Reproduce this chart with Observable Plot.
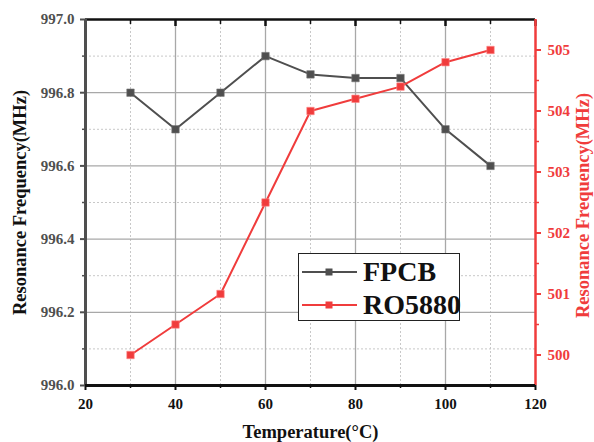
<!DOCTYPE html>
<html>
<head>
<meta charset="utf-8">
<script src="https://cdn.jsdelivr.net/npm/d3@7"></script>
<script src="https://cdn.jsdelivr.net/npm/@observablehq/plot@0.6"></script>
<style>
  html, body { margin: 0; padding: 0; background: #fff; }
  #wrap { position: relative; width: 594px; height: 442px; font-family: "Liberation Serif", "Times New Roman", serif; font-weight: bold; }
  #wrap svg text { font-family: "Liberation Serif", "Times New Roman", serif !important; font-weight: bold; }
  #legend { position: absolute; left: 298px; top: 253px; width: 162px; height: 68px; border: 1.5px solid #222; background: #fff; box-sizing: border-box; }
  .row { position: absolute; left: 0; height: 32px; display: flex; align-items: center; }
  .row span { font-size: 28px; line-height: 28px; color: #111; margin-left: 6px; }
</style>
</head>
<body>
<div id="wrap"></div>
<script>
const temps = [30, 40, 50, 60, 70, 80, 90, 100, 110];
const fpcb = [996.8, 996.7, 996.8, 996.9, 996.85, 996.84, 996.84, 996.7, 996.6];
const ro5880 = [500.0, 500.5, 501.0, 502.5, 504.0, 504.2, 504.4, 504.8, 505.0];
const xMajor = [20, 40, 60, 80, 100, 120];
const xMinor = [30, 50, 70, 90, 110];
const leftMajor = [996.0, 996.2, 996.4, 996.6, 996.8, 997.0];
const leftMinor = [996.1, 996.3, 996.5, 996.7, 996.9];
const rightMajor = [500, 501, 502, 503, 504, 505];
const rightMinor = [500.5, 501.5, 502.5, 503.5, 504.5];
const rightDomain = [499.5, 505.5];
const leftDomain = [996.0, 997.0];
const seriesNames = ["FPCB", "RO5880"];
const grayC = "#4f4f4f";
const redC = "#f03c3c";

const toLeft = v => leftDomain[0] + (v - rightDomain[0]) * (leftDomain[1] - leftDomain[0]) / (rightDomain[1] - rightDomain[0]);
const fromLeft = v => rightDomain[0] + (v - leftDomain[0]) * (rightDomain[1] - rightDomain[0]) / (leftDomain[1] - leftDomain[0]);

const dataF = temps.map((t, i) => ({t, v: fpcb[i]}));
const dataR = temps.map((t, i) => ({t, v: toLeft(ro5880[i])}));

const chart = Plot.plot({
  width: 594,
  height: 442,
  marginLeft: 85,
  marginRight: 59,
  marginTop: 19,
  marginBottom: 57,
  style: {fontFamily: "'Liberation Serif', 'Times New Roman', serif", fontWeight: "bold", fontSize: "15px", background: "#fff"},
  x: {domain: [20, 120]},
  y: {domain: leftDomain},
  marks: [
    Plot.ruleX(xMinor, {stroke: "#c8c8c8", strokeWidth: 1, strokeDasharray: "2,2"}),
    Plot.ruleY(leftMinor, {stroke: "#c8c8c8", strokeWidth: 1, strokeDasharray: "2,2"}),
    Plot.ruleX(xMajor.slice(1, -1), {stroke: "#a8a8a8", strokeWidth: 1.3}),
    Plot.ruleY(leftMajor.slice(1, -1), {stroke: "#a8a8a8", strokeWidth: 1.3}),
    // axes ticks & labels
    Plot.axisX({ticks: xMajor, tickSize: 5, tickPadding: 8, label: null, color: "#111", strokeWidth: 2}),
    Plot.axisX({ticks: xMinor, tickSize: 3, tickFormat: () => "", label: null, color: "#111", strokeWidth: 1.5}),
    Plot.axisX({anchor: "top", ticks: xMajor, tickSize: -6, tickFormat: () => "", label: null, color: "#111", strokeWidth: 2.5}),
    Plot.axisX({anchor: "top", ticks: xMinor, tickSize: -4, tickFormat: () => "", label: null, color: "#111", strokeWidth: 1.5}),
    Plot.axisY({ticks: leftMajor, tickSize: 5, tickPadding: 6, tickFormat: d => d.toFixed(1), label: null, color: grayC, strokeWidth: 2}),
    Plot.axisY({ticks: leftMinor, tickSize: 3, tickFormat: () => "", label: null, color: grayC, strokeWidth: 1.5}),
    Plot.axisY({anchor: "right", ticks: rightMajor.map(toLeft), tickSize: 5, tickPadding: 7, tickFormat: d => String(Math.round(fromLeft(d))), label: null, color: redC, strokeWidth: 2}),
    Plot.axisY({anchor: "right", ticks: rightMinor.map(toLeft), tickSize: 3, tickFormat: () => "", label: null, color: redC, strokeWidth: 1.5}),
    // frame lines
    Plot.ruleY([leftDomain[1]], {stroke: "#111", strokeWidth: 2.5}),
    Plot.ruleX([120], {stroke: redC, strokeWidth: 2.5}),
    Plot.ruleX([20], {stroke: grayC, strokeWidth: 3}),
    Plot.ruleY([leftDomain[0]], {stroke: "#111", strokeWidth: 3}),
    // series
    Plot.line(dataF, {x: "t", y: "v", stroke: grayC, strokeWidth: 2}),
    Plot.dot(dataF, {x: "t", y: "v", symbol: "square", r: 4.2, fill: grayC, stroke: "#777", strokeWidth: 0.6}),
    Plot.line(dataR, {x: "t", y: "v", stroke: redC, strokeWidth: 2}),
    Plot.dot(dataR, {x: "t", y: "v", symbol: "square", r: 4.2, fill: redC, stroke: "#f88", strokeWidth: 0.6}),
    // titles
    Plot.text(["Resonance Frequency(MHz)"], {frameAnchor: "left", textAnchor: "middle", rotate: -90, dx: -65, dy: 0, fontSize: 18.5, fill: "#111", fontWeight: "bold"}),
    Plot.text(["Resonance Frequency(MHz)"], {frameAnchor: "right", textAnchor: "middle", rotate: -90, dx: 48, dy: 3, fontSize: 18.5, fill: redC, fontWeight: "bold"}),
    Plot.text(["Temperature(°C)"], {frameAnchor: "bottom", dy: 52, dx: 0, fontSize: 18.5, fill: "#111", fontWeight: "bold"})
  ]
});

const wrap = document.getElementById("wrap");
wrap.appendChild(chart);

// legend
const legend = document.createElement("div");
legend.id = "legend";
const colors = [grayC, redC];
seriesNames.forEach((name, i) => {
  const row = document.createElement("div");
  row.className = "row";
  row.style.top = (i === 0 ? 2 : 35) + "px";
  const svg = d3.create("svg").attr("width", 58).attr("height", 32);
  svg.append("line").attr("x1", 3).attr("x2", 58).attr("y1", 16).attr("y2", 16).attr("stroke", colors[i]).attr("stroke-width", 2);
  svg.append("rect").attr("x", 26.5).attr("y", 12.5).attr("width", 7).attr("height", 7).attr("fill", colors[i]);
  row.appendChild(svg.node());
  const sp = document.createElement("span");
  sp.textContent = name;
  row.appendChild(sp);
  legend.appendChild(row);
});
wrap.appendChild(legend);
</script>
</body>
</html>
